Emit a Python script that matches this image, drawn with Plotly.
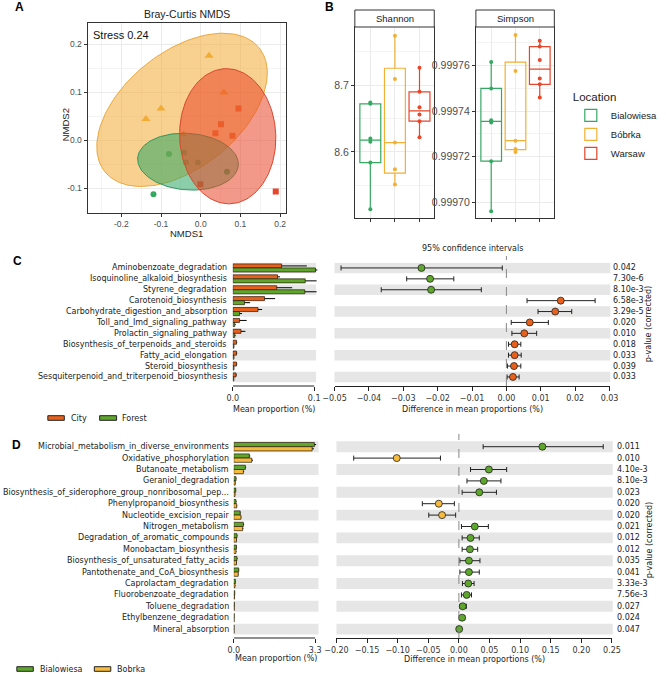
import numpy as np
import plotly.graph_objects as go

W, H = 666, 674

# ---------------- Panel A : Bray-Curtis NMDS ----------------
bia_nmds1 = [-0.119, -0.080, -0.042, -0.037, -0.007, 0.066]
bia_nmds2 = [-0.113, -0.029, -0.026, -0.047, -0.047, -0.066]
bob_nmds1 = [-0.138, -0.100, 0.021, 0.058, -0.044]
bob_nmds2 = [0.044, 0.066, 0.176, 0.099, 0.012]
war_nmds1 = [0.095, 0.051, 0.037, 0.080, -0.001, 0.189]
war_nmds2 = [0.066, 0.033, 0.014, 0.009, -0.092, -0.107]
# ellipse: centre x, centre y, semi-axis a, semi-axis b, angle (deg)
ell_bia = [-0.032, -0.045, 0.127, 0.059, -3]
ell_bob = [-0.047, 0.063, 0.235, 0.128, 29]
ell_war = [0.068, 0.008, 0.141, 0.121, 95]
a_xticks = [-0.2, -0.1, 0.0, 0.1, 0.2]
a_xlabels = ["-0.2", "-0.1", "0.0", "0.1", "0.2"]
a_yticks = [-0.1, 0.0, 0.1, 0.2]
a_ylabels = ["-0.1", "0.0", "0.1", "0.2"]

# ---------------- Panel B : alpha diversity ----------------
locations = ["Bialowiesa", "Bóbrka", "Warsaw"]
shannon_bia = [8.674, 8.672, 8.620, 8.615, 8.584, 8.514]
shannon_bob = [8.774, 8.709, 8.614, 8.574, 8.551]
shannon_war = [8.726, 8.690, 8.667, 8.656, 8.646, 8.622]
simpson_bia = [0.9997616, 0.9997500, 0.9997360, 0.9997350, 0.9997180, 0.9996960]
simpson_bob = [0.9997735, 0.9997576, 0.9997270, 0.9997234, 0.9997220]
simpson_war = [0.9997710, 0.9997684, 0.9997625, 0.9997544, 0.9997518, 0.9997460]
shannon_ticks = [8.6, 8.7]
simpson_ticks = [0.99970, 0.99972, 0.99974, 0.99976]
simpson_labels = ["0.99970", "0.99972", "0.99974", "0.99976"]

# ---------------- Panel C : City vs Forest ----------------
c_paths = ["Aminobenzoate_degradation", "Isoquinoline_alkaloid_biosynthesis",
           "Styrene_degradation", "Carotenoid_biosynthesis",
           "Carbohydrate_digestion_and_absorption", "Toll_and_Imd_signaling_pathway",
           "Prolactin_signaling_pathway", "Biosynthesis_of_terpenoids_and_steroids",
           "Fatty_acid_elongation", "Steroid_biosynthesis",
           "Sesquiterpenoid_and_triterpenoid_biosynthesis"]
c_city = [0.060, 0.055, 0.054, 0.039, 0.031, 0.0083, 0.010, 0.0045, 0.0045, 0.0045, 0.004]
c_city_sd = [0.031, 0.003, 0.019, 0.013, 0.005, 0.0087, 0.0055, 0.001, 0.001, 0.001, 0.001]
c_forest = [0.1016, 0.089, 0.0885, 0.0143, 0.0083, 0.0024, 0.0024, 0.0013, 0.0013, 0.0013, 0.0012]
c_forest_sd = [0.0024, 0.014, 0.0145, 0.007, 0.003, 0.001, 0.001, 0.0005, 0.0005, 0.0005, 0.0005]
c_diff = [-0.0247, -0.0222, -0.0219, 0.0158, 0.0142, 0.0068, 0.0052, 0.0024, 0.0024, 0.0022, 0.0019]
c_lo = [-0.0481, -0.0290, -0.0364, 0.0060, 0.0092, 0.0014, 0.0016, 0.0006, 0.0006, 0.0003, 0.0002]
c_hi = [-0.0012, -0.0153, -0.0073, 0.0258, 0.0190, 0.0122, 0.0088, 0.0042, 0.0043, 0.0042, 0.0037]
c_pvals = ["0.042", "7.30e-6", "8.10e-3", "6.58e-3", "3.29e-5", "0.020", "0.010",
           "0.018", "0.033", "0.039", "0.033"]
c_left_ticks = [0.0, 0.1]
c_right_ticks = [-0.05, -0.04, -0.03, -0.02, -0.01, 0.0, 0.01, 0.02, 0.03]

# ---------------- Panel D : Bialowiesa vs Bobrka ----------------
d_paths = ["Microbial_metabolism_in_diverse_environments", "Oxidative_phosphorylation",
           "Butanoate_metabolism", "Geraniol_degradation",
           "Biosynthesis_of_siderophore_group_nonribosomal_pep...",
           "Phenylpropanoid_biosynthesis", "Nucleotide_excision_repair",
           "Nitrogen_metabolism", "Degradation_of_aromatic_compounds",
           "Monobactam_biosynthesis", "Biosynthesis_of_unsaturated_fatty_acids",
           "Pantothenate_and_CoA_biosynthesis", "Caprolactam_degradation",
           "Fluorobenzoate_degradation", "Toluene_degradation",
           "Ethylbenzene_degradation", "Mineral_absorption"]
d_bia = [3.27, 0.63, 0.47, 0.09, 0.08, 0.09, 0.26, 0.39, 0.13, 0.11, 0.13, 0.20,
         0.065, 0.04, 0.025, 0.02, 0.013]
d_bia_sd = [0.07, 0.04, 0.03, 0.02, 0.015, 0.02, 0.02, 0.03, 0.02, 0.02, 0.02, 0.02,
            0.01, 0.008, 0.005, 0.004, 0.003]
d_bob = [3.18, 0.73, 0.39, 0.06, 0.05, 0.12, 0.29, 0.36, 0.11, 0.09, 0.11, 0.18,
         0.05, 0.03, 0.02, 0.015, 0.012]
d_bob_sd = [0.07, 0.05, 0.03, 0.015, 0.012, 0.02, 0.02, 0.03, 0.02, 0.02, 0.02, 0.02,
            0.01, 0.008, 0.005, 0.004, 0.003]
d_diff = [0.1364, -0.1015, 0.0490, 0.0407, 0.0333, -0.0328, -0.0275, 0.0259, 0.0190,
          0.0180, 0.0164, 0.0164, 0.0153, 0.0127, 0.0063, 0.0053, 0.0005]
d_lo = [0.0396, -0.1718, 0.0190, 0.0132, 0.0053, -0.0597, -0.0492, 0.0042, 0.0053,
        0.0053, 0.0016, 0.0016, 0.0058, 0.0042, 0.0016, 0.0005, -0.0005]
d_hi = [0.2357, -0.0301, 0.0780, 0.0687, 0.0613, -0.0074, -0.0053, 0.0481, 0.0333,
        0.0307, 0.0344, 0.0333, 0.0248, 0.0206, 0.0122, 0.0095, 0.0020]
d_pvals = ["0.011", "0.010", "4.10e-3", "8.10e-3", "0.023", "0.020", "0.020", "0.021",
           "0.012", "0.012", "0.035", "0.041", "3.33e-3", "7.56e-3", "0.027", "0.024",
           "0.047"]
d_left_ticks = [0.0, 3.3]
d_right_ticks = [-0.20, -0.15, -0.10, -0.05, 0.0, 0.05, 0.10, 0.15, 0.20, 0.25]

# ---------------- styling ----------------
col_bia = "#35a862"
col_bob = "#f2b035"
col_war = "#e8452a"
col_city = "#e8611c"
col_forest = "#5ea72c"
col_dbia = "#5ea72c"
col_dbob = "#f6bb3e"
SANS = "Liberation Sans"
DJ = "DejaVu Sans"


def px(x):
    return x / W


def py(y):
    return 1 - y / H


def xd(a, b):
    return [a / W, b / W]


def yd(top, bottom):
    return [1 - bottom / H, 1 - top / H]


def ellipse(p, n=160):
    cx, cy, a, b, ang = p
    t = np.linspace(0, 2 * np.pi, n)
    th = np.deg2rad(ang)
    x = cx + a * np.cos(t) * np.cos(th) - b * np.sin(t) * np.sin(th)
    y = cy + a * np.cos(t) * np.sin(th) + b * np.sin(t) * np.cos(th)
    return x, y


fig = go.Figure()
annots = []
shapes = []

# ---- Panel A traces ----
fig.add_trace(go.Scatter(x=bia_nmds1, y=bia_nmds2, mode="markers", xaxis="x", yaxis="y",
                         marker=dict(symbol="circle", size=6, color=col_bia), showlegend=False))
fig.add_trace(go.Scatter(x=bob_nmds1, y=bob_nmds2, mode="markers", xaxis="x", yaxis="y",
                         marker=dict(symbol="triangle-up", size=8, color=col_bob), showlegend=False))
fig.add_trace(go.Scatter(x=war_nmds1, y=war_nmds2, mode="markers", xaxis="x", yaxis="y",
                         marker=dict(symbol="square", size=6, color=col_war), showlegend=False))
for p, fc, lc in [(ell_bob, "rgba(242,170,52,0.55)", "rgb(232,168,60)"),
                  (ell_bia, "rgba(46,165,98,0.55)", "rgb(50,150,95)"),
                  (ell_war, "rgba(234,70,40,0.55)", "rgb(215,70,45)")]:
    ex, ey = ellipse(p)
    fig.add_trace(go.Scatter(x=ex, y=ey, mode="lines", fill="toself", fillcolor=fc,
                             line=dict(color=lc, width=1), xaxis="x", yaxis="y",
                             showlegend=False, hoverinfo="skip"))

# ---- Panel B traces ----
for i, (name, col, sh, si) in enumerate([
        ("Bialowiesa", col_bia, shannon_bia, simpson_bia),
        ("Bóbrka", col_bob, shannon_bob, simpson_bob),
        ("Warsaw", col_war, shannon_war, simpson_war)]):
    for vals, xa, ya, leg in [(sh, "x2", "y2", True), (si, "x3", "y3", False)]:
        fig.add_trace(go.Box(y=vals, x=[i + 1] * len(vals), name=name, legendgroup=name,
                             showlegend=leg, marker=dict(color=col, size=4),
                             line=dict(color=col, width=1.2),
                             fillcolor="rgba(255,255,255,0)", boxpoints="all", jitter=0,
                             pointpos=0, whiskerwidth=0, width=0.85,
                             xaxis=xa, yaxis=ya))

# ---- Panel C / D traces ----
def bar_panel(vals1, sd1, col1, vals2, sd2, col2, xa, ya):
    rows = list(range(len(vals1)))
    for v, s, c in [(vals1, sd1, col1), (vals2, sd2, col2)]:
        fig.add_trace(go.Bar(y=rows, x=v, orientation="h", xaxis=xa, yaxis=ya,
                             marker=dict(color=c, line=dict(color="#2a1a0a", width=0.7)),
                             error_x=dict(type="data", array=s, arrayminus=[0] * len(s),
                                          symmetric=False, color="black", thickness=1,
                                          width=0),
                             showlegend=False))


def ci_panel(diff, lo, hi, colpos, colneg, xa, ya):
    rows = list(range(len(diff)))
    cols = [colpos if d > 0 else colneg for d in diff]
    fig.add_trace(go.Scatter(x=diff, y=rows, mode="markers", xaxis=xa, yaxis=ya,
                             marker=dict(size=7, color=cols, line=dict(color="#222", width=0.8)),
                             error_x=dict(type="data", symmetric=False,
                                          array=[h - d for h, d in zip(hi, diff)],
                                          arrayminus=[d - l for d, l in zip(diff, lo)],
                                          color="#222", thickness=1, width=2.5),
                             showlegend=False))


bar_panel(c_city, c_city_sd, col_city, c_forest, c_forest_sd, col_forest, "x4", "y4")
ci_panel(c_diff, c_lo, c_hi, col_city, col_forest, "x5", "y5")
bar_panel(d_bia, d_bia_sd, col_dbia, d_bob, d_bob_sd, col_dbob, "x6", "y6")
ci_panel(d_diff, d_lo, d_hi, col_dbia, col_dbob, "x7", "y7")

# ---------------- geometry ----------------
c_top, c_bot, c_sp = 262.5, 386, 10.9
c_yrange = [-0.5 + (c_bot - c_top) / c_sp, -0.5]
d_top, d_bot, d_sp = 441, 638, 11.4
d_yrange = [-0.5 + (d_bot - d_top) / d_sp, -0.5]

c_l0, c_l1 = 228, 316        # left bar panel C (0 at 228, 0.1 at 312)
c_lrange = [0, 0.1 * (c_l1 - c_l0) / 84]
d_l0, d_l1 = 229, 317
d_lrange = [0, 3.3 * (d_l1 - d_l0) / 84]

grid = "#ebebeb"
minor_grid = "#f4f4f4"
tickf_a = dict(family=SANS, size=8.5, color="#4d4d4d")
tickf_b = dict(family=SANS, size=10.5, color="#4d4d4d")
tickf_s = dict(family=DJ, size=8, color="#333")

layout = dict(
    width=W, height=H, margin=dict(l=0, r=0, t=0, b=0),
    paper_bgcolor="white", plot_bgcolor="white", font=dict(family=SANS),
    barmode="group", bargap=0.26, bargroupgap=0,
    showlegend=True,
    legend=dict(x=px(577), y=py(86), xanchor="left", yanchor="top",
                title=dict(text="Location", font=dict(family=SANS, size=11.5, color="#222")),
                font=dict(family=SANS, size=9.5, color="#222"), bgcolor="rgba(0,0,0,0)",
                tracegroupgap=0, itemwidth=30),
    # Panel A
    xaxis=dict(domain=xd(78, 283), anchor="y", range=[-0.285, 0.215], tickvals=a_xticks,
               ticktext=a_xlabels,
               showline=True, mirror=True, linecolor="#333", linewidth=1, ticks="outside",
               ticklen=3, tickcolor="#333", tickfont=tickf_a, showgrid=True, gridcolor=grid,
               zeroline=False, minor=dict(tickvals=[-0.25, -0.15, -0.05, 0.05, 0.15],
                                          showgrid=True, gridcolor=minor_grid, ticks="")),
    yaxis=dict(domain=yd(23, 213), anchor="x", range=[-0.152, 0.244], tickvals=a_yticks,
               ticktext=a_ylabels,
               showline=True, mirror=True, linecolor="#333", linewidth=1, ticks="outside",
               ticklen=3, tickcolor="#333", tickfont=tickf_a, showgrid=True, gridcolor=grid,
               zeroline=False, minor=dict(tickvals=[-0.15, -0.05, 0.05, 0.15],
                                          showgrid=True, gridcolor=minor_grid, ticks="")),
    # Panel B - Shannon
    xaxis2=dict(domain=xd(354, 436), anchor="y2", range=[0.37, 3.6], tickvals=[1, 2, 3],
                ticktext=["", "", ""],
                showline=True, mirror=True, linecolor="#333", linewidth=1, ticks="outside",
                ticklen=3, tickcolor="#333", showgrid=True, gridcolor=grid, zeroline=False),
    yaxis2=dict(domain=yd(27, 218), anchor="x2", range=[8.501, 8.787], tickvals=shannon_ticks,
                ticktext=["8.6", "8.7"], showline=True, mirror=True, linecolor="#333",
                linewidth=1, ticks="outside", ticklen=3, tickcolor="#333", tickfont=tickf_b,
                showgrid=True, gridcolor=grid, zeroline=False,
                minor=dict(tickvals=[8.55, 8.65, 8.75], showgrid=True, gridcolor=minor_grid,
                           ticks="")),
    # Panel B - Simpson
    xaxis3=dict(domain=xd(479, 560), anchor="y3", range=[0.37, 3.6], tickvals=[1, 2, 3],
                ticktext=["", "", ""],
                showline=True, mirror=True, linecolor="#333", linewidth=1, ticks="outside",
                ticklen=3, tickcolor="#333", showgrid=True, gridcolor=grid, zeroline=False),
    yaxis3=dict(domain=yd(27, 218), anchor="x3", range=[0.999693, 0.999777],
                tickvals=simpson_ticks,
                ticktext=simpson_labels, showline=True, mirror=True, linecolor="#333",
                linewidth=1, ticks="outside", ticklen=3, tickcolor="#333", tickfont=tickf_b,
                showgrid=True, gridcolor=grid, zeroline=False,
                minor=dict(tickvals=[0.99971, 0.99973, 0.99975, 0.99977], showgrid=True,
                           gridcolor=minor_grid, ticks="")),
    # Panel C
    xaxis4=dict(domain=xd(c_l0, c_l1), anchor="y4", range=c_lrange, tickvals=c_left_ticks,
                ticktext=["0.0", "0.1"], showline=False, ticks="outside", ticklen=4,
                tickcolor="#222", tickfont=tickf_s, showgrid=False, zeroline=False),
    yaxis4=dict(domain=yd(c_top, c_bot), anchor="x4", range=c_yrange, showticklabels=False,
                showgrid=False, zeroline=False, ticks=""),
    xaxis5=dict(domain=xd(333, 617), anchor="y5", range=[-0.05, 0.03], tickvals=c_right_ticks,
                tickformat=".2f", showline=True, linecolor="#222", linewidth=1,
                ticks="outside", ticklen=4, tickcolor="#222", tickfont=tickf_s,
                showgrid=False, zeroline=False),
    yaxis5=dict(domain=yd(c_top, c_bot), anchor="x5", range=c_yrange, showticklabels=False,
                showgrid=False, zeroline=False, ticks=""),
    # Panel D
    xaxis6=dict(domain=xd(d_l0, d_l1), anchor="y6", range=d_lrange, tickvals=d_left_ticks,
                ticktext=["0.0", "3.3"], showline=False, ticks="outside", ticklen=4,
                tickcolor="#222", tickfont=tickf_s, showgrid=False, zeroline=False),
    yaxis6=dict(domain=yd(d_top, d_bot), anchor="x6", range=d_yrange, showticklabels=False,
                showgrid=False, zeroline=False, ticks=""),
    xaxis7=dict(domain=xd(335, 619.5), anchor="y7", range=[-0.20, 0.25], tickvals=d_right_ticks,
                tickformat=".2f", showline=True, linecolor="#222", linewidth=1,
                ticks="outside", ticklen=4, tickcolor="#222", tickfont=tickf_s,
                showgrid=False, zeroline=False),
    yaxis7=dict(domain=yd(d_top, d_bot), anchor="x7", range=d_yrange, showticklabels=False,
                showgrid=False, zeroline=False, ticks=""),
)

# ---------------- shapes ----------------
band = "#e6e6e6"
for n, ya, xl, xr, lext in [(len(c_paths), "y4", "x4", "x5", (314 - c_l0) / (c_l1 - c_l0)),
                            (len(d_paths), "y6", "x6", "x7", (316.5 - d_l0) / (d_l1 - d_l0))]:
    yr = "y5" if ya == "y4" else "y7"
    for i in range(0, n, 2):
        shapes.append(dict(type="rect", xref=xl + " domain", yref=ya, x0=0, x1=lext,
                           y0=i - 0.48, y1=i + 0.48, fillcolor=band, line=dict(width=0),
                           layer="below"))
        shapes.append(dict(type="rect", xref=xr + " domain", yref=yr, x0=0, x1=1.003,
                           y0=i - 0.48, y1=i + 0.48, fillcolor=band, line=dict(width=0),
                           layer="below"))

shapes.append(dict(type="line", xref="x4", yref="y4 domain", x0=c_left_ticks[0],
                   x1=c_left_ticks[-1], y0=0, y1=0, line=dict(color="#222", width=1)))
shapes.append(dict(type="line", xref="x6", yref="y6 domain", x0=d_left_ticks[0],
                   x1=d_left_ticks[-1], y0=0, y1=0, line=dict(color="#222", width=1)))
shapes.append(dict(type="line", xref="x5", yref="paper", x0=0, x1=0, y0=py(c_bot), y1=py(256),
                   line=dict(color="#888", width=1, dash="dash")))
shapes.append(dict(type="line", xref="x7", yref="paper", x0=0, x1=0, y0=py(d_bot), y1=py(434),
                   line=dict(color="#888", width=1, dash="dash")))
for x0, x1, lab in [(354, 436, "Shannon"), (479, 560, "Simpson")]:
    shapes.append(dict(type="rect", xref="paper", yref="paper", x0=px(x0), x1=px(x1),
                       y0=py(27), y1=py(10), fillcolor="white",
                       line=dict(color="#333", width=1)))
    annots.append(dict(text=lab, xref="paper", yref="paper", x=px((x0 + x1) / 2), y=py(18.5),
                       showarrow=False, font=dict(family=SANS, size=9.5, color="#1a1a1a"),
                       xanchor="center", yanchor="middle"))
for (sx0, sx1, sy, tx, lab, col) in [(37, 54, 418, 59, "City", col_city),
                                     (90.5, 108, 418, 112, "Forest", col_forest),
                                     (5, 22, 669, 26.5, "Bialowiesa", col_dbia),
                                     (85, 102, 669, 106, "Bobrka", col_dbob)]:
    shapes.append(dict(type="rect", xref="paper", yref="paper", x0=px(sx0), x1=px(sx1),
                       y0=py(sy + 2.3), y1=py(sy - 2.3), fillcolor=col,
                       line=dict(color="#222", width=1)))
    annots.append(dict(text=lab, xref="paper", yref="paper", x=px(tx), y=py(sy),
                       showarrow=False, font=dict(family=DJ, size=8, color="#222"),
                       xanchor="left", yanchor="middle"))


def ann(text, x, y, size, family=SANS, anchor="center", color="#222", angle=0, bold=False):
    annots.append(dict(text=("<b>%s</b>" % text) if bold else text, xref="paper", yref="paper",
                       x=px(x), y=py(y), showarrow=False, textangle=angle,
                       font=dict(family=family, size=size, color=color),
                       xanchor=anchor, yanchor="middle"))


ann("A", 7.5, 6.5, 12, bold=True, color="#000")
ann("B", 328, 6.5, 12, bold=True, color="#000")
ann("C", 6, 261, 12, bold=True, color="#000")
ann("D", 5, 445, 12, bold=True, color="#000")
ann("Bray-Curtis NMDS", 180.5, 14, 10.5, color="#222")
ann("Stress 0.24", 82, 35, 11, anchor="left", color="#111")
ann("NMDS1", 180.5, 233, 9.5, color="#222")
ann("NMDS2", 55, 125, 9.5, angle=-90, color="#222")
ann("95% confidence intervals", 475, 249, 8, family=DJ)
ann("Mean proportion (%)", 271, 409, 8, family=DJ)
ann("Difference in mean proportions (%)", 475, 409, 8, family=DJ)
ann("Mean proportion (%)", 273, 658, 8, family=DJ)
ann("Difference in mean proportions (%)", 478, 659, 8, family=DJ)
ann("p-value (corrected)", 658, 324, 8, family=DJ, angle=-90)
ann("p-value (corrected)", 658, 540, 8, family=DJ, angle=-90)

for i, lab in enumerate(c_paths):
    annots.append(dict(text=lab, xref="paper", yref="y4", x=px(224.5), y=i, showarrow=False,
                       xanchor="right", yanchor="middle",
                       font=dict(family=DJ, size=8, color="#222")))
for i, lab in enumerate(c_pvals):
    annots.append(dict(text=lab, xref="paper", yref="y5", x=px(618), y=i, showarrow=False,
                       xanchor="left", yanchor="middle",
                       font=dict(family=DJ, size=8, color="#222")))
for i, lab in enumerate(d_paths):
    annots.append(dict(text=lab, xref="paper", yref="y6", x=px(226), y=i, showarrow=False,
                       xanchor="right", yanchor="middle",
                       font=dict(family=DJ, size=8, color="#222")))
for i, lab in enumerate(d_pvals):
    annots.append(dict(text=lab, xref="paper", yref="y7", x=px(623), y=i, showarrow=False,
                       xanchor="left", yanchor="middle",
                       font=dict(family=DJ, size=8, color="#222")))

layout["shapes"] = shapes
layout["annotations"] = annots
fig.update_layout(**layout)
fig.write_html("out.html", config={"displayModeBar": False},
               post_script="document.body.style.margin='0';document.body.style.overflow='hidden';")
